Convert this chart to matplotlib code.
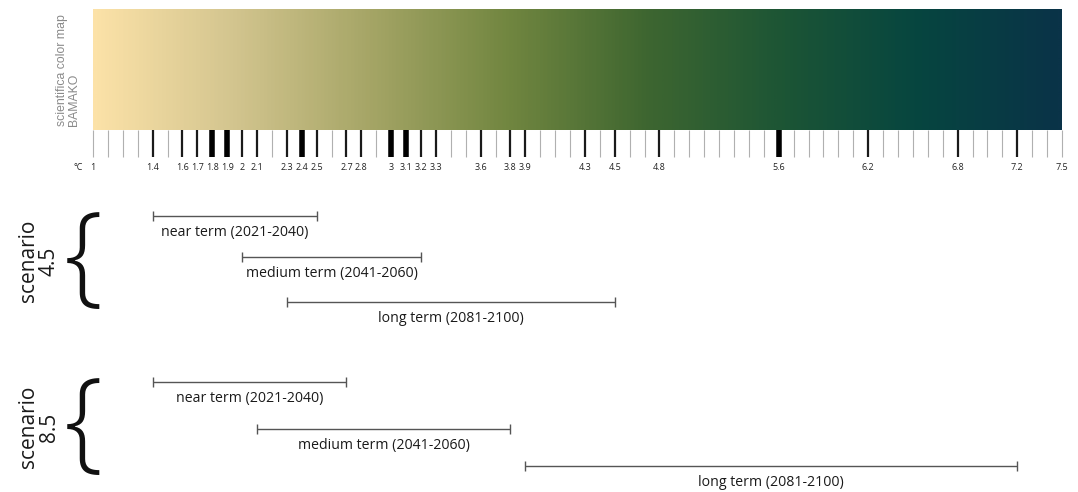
import matplotlib
matplotlib.use("Agg")
import matplotlib.pyplot as plt
import numpy as np
from matplotlib.colors import LinearSegmentedColormap

# --- data -------------------------------------------------------------
t_min, t_max = 1.0, 7.5
tick_step = 0.1

labeled_values = [1, 1.4, 1.6, 1.7, 1.8, 1.9, 2, 2.1, 2.3, 2.4, 2.5, 2.7, 2.8,
                  3, 3.1, 3.2, 3.3, 3.6, 3.8, 3.9, 4.3, 4.5, 4.8, 5.6, 6.2,
                  6.8, 7.2, 7.5]
marked_values = [1.4, 1.6, 1.7, 1.8, 1.9, 2, 2.1, 2.3, 2.4, 2.5, 2.7, 2.8,
                 3, 3.1, 3.2, 3.3, 3.6, 3.8, 3.9, 4.3, 4.5, 4.8, 5.6, 6.2,
                 6.8, 7.2]
heavy_values = [1.8, 1.9, 2.4, 3, 3.1, 5.6]

period_labels = ["near term (2021-2040)", "medium term (2041-2060)",
                 "long term (2081-2100)"]
scenario_names = ["4.5", "8.5"]
range_low = {"4.5": [1.4, 2.0, 2.3], "8.5": [1.4, 2.1, 3.9]}
range_high = {"4.5": [2.5, 3.2, 4.5], "8.5": [2.7, 3.8, 7.2]}

# bamako-like colour ramp, light to dark
bamako_colors = ["#fce2a8", "#d3c58f", "#a5a566", "#718640", "#3e6630",
                 "#1c5535", "#064540", "#0a3348"]

# --- figure -----------------------------------------------------------
W, H = 1078, 492
fig = plt.figure(figsize=(W / 100, H / 100), dpi=100)
fig.patch.set_facecolor("white")
font = "Open Sans"

x0, x1 = 93, 1062          # horizontal extent of the temperature scale (px)
bar_top, bar_bot = 9, 130  # colour bar vertical extent (px)

cmap = LinearSegmentedColormap.from_list("bamako_r", bamako_colors)

ax_bar = fig.add_axes([x0 / W, 1 - bar_bot / H, (x1 - x0) / W,
                       (bar_bot - bar_top) / H])
grad = np.linspace(t_min, t_max, 800)[None, :]
ax_bar.imshow(grad, aspect="auto", cmap=cmap,
              extent=[t_min, t_max, 0, 1], interpolation="bilinear")
ax_bar.set_xlim(t_min, t_max)
ax_bar.set_axis_off()

ax_bar.text(-0.0135, 0.03, "scientifica color map\nBAMAKO",
            transform=ax_bar.transAxes, rotation=90, ha="right", va="bottom",
            fontsize=8.8, color="#8a8a8a", family="Liberation Sans",
            linespacing=1.0, multialignment="left")

# lower panel: ticks and ranges, y measured in pixels from the top
ax = fig.add_axes([x0 / W, 0, (x1 - x0) / W, (H - bar_bot) / H])
ax.set_xlim(t_min, t_max)
ax.set_ylim(H, bar_bot)
ax.set_axis_off()

all_ticks = np.round(np.arange(t_min, t_max + 1e-9, tick_step), 1)
for v in all_ticks:
    if v in heavy_values:
        lw, col = 4.0, "#000000"
    elif v in marked_values:
        lw, col = 1.6, "#1a1a1a"
    else:
        lw, col = 0.8, "#b0b0b0"
    ax.vlines(v, bar_bot, 157, color=col, lw=lw, clip_on=False)

for v in labeled_values:
    ax.text(v, 167, f"{v:g}", ha="center", va="center", fontsize=6.5,
            family=font, color="#222222", clip_on=False)
ax.text(t_min - 0.07, 167, "°C", ha="right", va="center", fontsize=6.5,
        family=font, color="#222222", clip_on=False)

# ranges for each scenario
scenario_rows = {"4.5": [216, 257, 302], "8.5": [382, 429, 466]}
for name in scenario_names:
    rows = scenario_rows[name]
    for lo, hi, y, lab in zip(range_low[name], range_high[name], rows,
                              period_labels):
        ax.hlines(y, lo, hi, color="#555555", lw=1.0)
        ax.vlines([lo, hi], y - 5, y + 5, color="#555555", lw=1.0)
        ax.text((lo + hi) / 2, y + 16, lab, ha="center", va="center",
                fontsize=10.2, family=font, color="#1a1a1a")

# scenario captions with braces
caption_centers = {"4.5": 261, "8.5": 427}
for name in scenario_names:
    yc = caption_centers[name]
    fig.text(39 / W, 1 - yc / H, f"scenario\n{name}", rotation=90,
             ha="center", va="center", fontsize=15, family=font,
             color="#1a1a1a", linespacing=0.95, multialignment="center")
    fig.text(83 / W, 1 - (yc + 1) / H, "{", ha="center", va="center",
             fontsize=80, family=font, fontweight="light", color="#111111")

fig.savefig("out.png", dpi=100, facecolor="white")
